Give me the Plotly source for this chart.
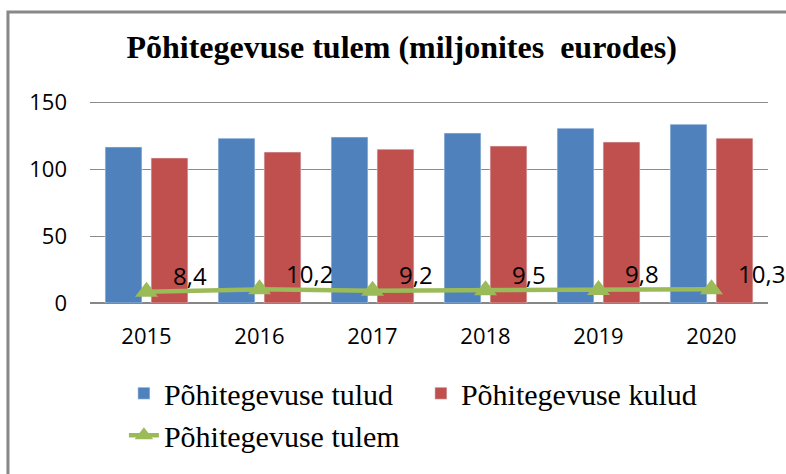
import plotly.graph_objects as go

years = ["2015", "2016", "2017", "2018", "2019", "2020"]
tulud = [116.6, 123.2, 124.0, 127.0, 130.7, 133.6]
kulud = [108.4, 112.8, 115.0, 117.3, 120.3, 123.2]
tulem = [8.4, 10.2, 9.2, 9.5, 9.8, 10.3]

name_tulud = "Põhitegevuse tulud"
name_kulud = "Põhitegevuse kulud"
name_tulem = "Põhitegevuse tulem"
title_text = "Põhitegevuse tulem (miljonites  eurodes)"

fig = go.Figure()
fig.add_trace(go.Bar(x=years, y=tulud, name=name_tulud, marker_color="#4F81BD"))
fig.add_trace(go.Bar(x=years, y=kulud, name=name_kulud, marker_color="#C0504D"))
fig.add_trace(go.Scatter(
    x=years, y=tulem, name=name_tulem, mode="lines+markers",
    line=dict(color="#9BBB59", width=4.5),
    marker=dict(symbol="triangle-up", size=20, color="#9BBB59"),
))

for i, v in enumerate(tulem):
    fig.add_annotation(
        x=i, y=v, text=f"{v:.1f}".replace(".", ","), showarrow=False,
        xanchor="left", yanchor="middle", xshift=24, yshift=16,
        font=dict(family="Open Sans", size=24, color="#000000"),
    )

# outer chart border
fig.add_shape(type="rect", xref="paper", yref="paper",
              x0=-0.121, x1=1.2, y0=-2.0, y1=1.44,
              line=dict(color="#888888", width=3), fillcolor="rgba(0,0,0,0)",
              layer="below")

fig.update_layout(
    width=786, height=474,
    margin=dict(l=90, r=18, t=101, b=171, autoexpand=False),
    paper_bgcolor="white", plot_bgcolor="white",
    title=dict(text=title_text, x=0.511, xanchor="center", y=1 - 47 / 474, yanchor="middle",
               font=dict(family="Liberation Serif", size=32, color="#000000", weight="bold")),
    barmode="group", bargap=0.186, bargroupgap=0.2,
    showlegend=True,
    legend=dict(orientation="h", x=0.05, xanchor="left", y=-0.318, yanchor="top",
                font=dict(family="Liberation Serif", size=30, color="#000000"),
                entrywidth=252, entrywidthmode="pixels", traceorder="normal",
                bgcolor="rgba(0,0,0,0)"),
    xaxis=dict(type="category", range=[-0.5, 5.5], showgrid=False, showline=False, zeroline=False,
               tickfont=dict(family="Open Sans", size=22, color="#000000"),
               ticks="", ticklabelstandoff=18),
    yaxis=dict(range=[0, 151], dtick=50, showgrid=True, gridcolor="#8a8a8a", gridwidth=1,
               zeroline=True, zerolinecolor="#868686", zerolinewidth=2, showline=False,
               tickfont=dict(family="Open Sans", size=22, color="#000000"),
               ticks="", ticklabelstandoff=22),
)

fig.write_html("out.html", config={"displayModeBar": False},
               post_script="document.body.style.margin='0';")
